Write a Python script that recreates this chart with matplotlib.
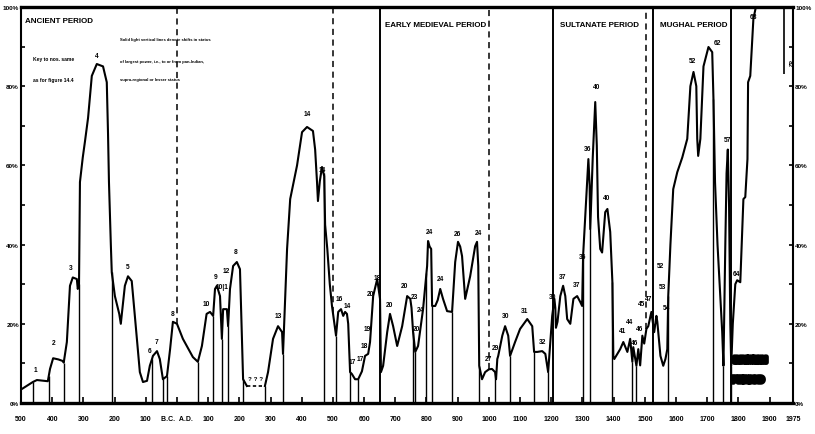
import numpy as np
import matplotlib
matplotlib.use("Agg")
import matplotlib.pyplot as plt
import matplotlib.patheffects as pe

plt.rcParams['font.family'] = ['Liberation Sans Narrow', 'Liberation Sans', 'DejaVu Sans']

# extent of largest power: (year, percent of subcontinent)
years = [-500, -462, -449, -414, -407, -397, -380, -366, -363, -353, -343, -334, -321, -318, -314,
         -311, -302, -295, -285, -273, -257, -237, -225, -221, -218, -212, -209, -199, -185, -180,
         -176, -167, -157, -145, -135, -119, -109, -96, -87, -80, -77, -64, -55, -45, -32, -22, -13,
         0, 19, 51, 67, 80, 95, 106, 116, 122, 128, 138, 144, 148, 160, 164, 170, 180, 192, 202,
         207, 212, 224]
pct = [3.4, 5.3, 5.8, 5.5, 8.6, 11.3, 11.0, 10.6, 10.2, 15.4, 29.6, 31.7, 31.3, 28.8, 30,
       55.8, 62, 66, 72, 82.6, 85.6, 85, 81, 68, 55.8, 40, 33, 27, 22.5, 20,
       23, 29.6, 32, 30.8, 22, 7.8, 5.3, 5.6, 9.4, 11.1, 11.9, 13.1, 11.1, 6, 6.8, 13.6, 20.5,
       20, 16.2, 11.6, 10.4, 14.4, 22.5, 23, 22, 28.8, 29.6, 27, 16.2, 23.7, 23.7, 19.4, 28.8, 34.6, 35.6, 33.8,
       20, 6, 4.3]

years2 = [282, 292, 308, 324, 337, 340, 347, 353, 363, 385, 401, 417, 436, 443, 449, 452, 458, 465, 472,
          475, 482, 490, 497, 510, 517, 526, 533, 539, 545, 549, 555, 561, 571, 581, 593, 603, 613, 619,
          626, 629, 642, 648, 651, 654, 661, 674, 683, 693, 706, 722, 738, 748, 752, 757, 764, 773, 789,
          802, 805, 810, 815, 818, 828, 836, 844, 853, 866, 882, 892, 901, 908, 914, 924, 940, 956, 962,
          966, 969, 978, 988, 1000, 1010, 1020, 1023, 1027, 1030, 1043, 1052, 1062, 1068, 1084, 1100, 1123,
          1139, 1145, 1155, 1171, 1181, 1190, 1203, 1210, 1213, 1215, 1220, 1229, 1238, 1245, 1251, 1261,
          1271, 1283, 1293, 1299, 1302, 1315, 1319, 1323, 1325, 1333, 1341, 1346, 1350, 1357, 1363, 1373,
          1380, 1389, 1396, 1399, 1402, 1421, 1431, 1444, 1453, 1460, 1463, 1473, 1479, 1485, 1492, 1498,
          1505, 1511, 1521, 1530, 1537, 1540, 1550, 1559, 1566, 1572, 1575, 1582, 1591, 1604, 1620, 1636,
          1646, 1656, 1665, 1668, 1671, 1678, 1688, 1704, 1716, 1720, 1725, 1733, 1741, 1748, 1752, 1758,
          1762, 1766, 1770, 1774, 1777, 1782, 1790, 1796, 1806, 1816, 1822, 1829, 1831, 1838, 1848, 1856,
          1947]
pct2 = [4.3, 7.8, 16.2, 19.4, 17.9, 12.4, 27, 38.9, 51.5, 60, 68.4, 69.7, 68.7, 64, 55.8, 51, 56, 59.6, 57.3,
        45, 38.9, 30, 24.5, 17, 23, 23.7, 22, 23, 22.5, 20, 7.8, 7.3, 6, 6, 8, 11.9, 12.4, 15.4,
        23.7, 27, 31.3, 28, 26.3, 7.8, 9.4, 17.9, 22.5, 19.4, 14.4, 19.4, 27, 26.3, 24, 17.9, 12.9, 14.4, 23.7,
        34.6, 40.9, 39.5, 38.9, 24.5, 24.5, 26, 28.8, 26.3, 23.2, 23, 35.6, 40.7, 39.5, 37.1, 26.3, 32, 39.6, 40.7,
        34.6, 9.4, 6, 7.8, 8.5, 8.6, 7.8, 6, 11.1, 11.9, 17, 19.4, 17, 11.9, 15.4, 18.7, 21.2,
        19.4, 12.9, 12.9, 13.1, 12.4, 7.8, 22, 26.3, 24, 19, 20.5, 27, 29.6, 27, 21.2, 20,
        26.3, 27, 25.5, 24.5, 37.1, 55.8, 61.6, 55, 43.9, 62, 76, 65, 47, 38.9, 38, 48.2,
        49, 43.2, 30.5, 11.9, 11.1, 13.6, 15.4, 12.9, 16.2, 10.4, 14.1, 9.4, 13.6, 9.5, 17, 15,
        18.7, 19.4, 23, 17.9, 22, 20.5, 11.9, 9.4, 11.1, 13.6, 27, 40, 54, 58.3, 62, 66.7,
        80, 83.6, 80, 66.7, 62.4, 66.7, 85, 89.9, 88.6, 76.8, 55.8, 40, 28, 18, 9.4, 40,
        58, 64, 50, 20, 9.4, 20, 30, 31, 30.5, 51.5, 52, 61.6, 81, 82.6, 97, 100,
        100]

# uncertain stretch (dotted)
gap_years = [224, 282]
gap_pct = [4.3, 4.3]

# shifts in status of largest power
shift_years = [-460, -411, -363, -314, -209, -80, -45, -32, 67, 116, 144, 164, 212, 282, 340, 470,
               510, 555, 581, 757, 764, 800, 818, 882, 969, 1020, 1068, 1145, 1190, 1302, 1325,
               1396, 1460, 1473, 1575, 1720, 1752, 1777]
period_lines = [650, 1206, 1526, 1776]
dashed_lines = [0, 500, 1000, 1505]

# dynasty key numbers
num_text = ["1", "2", "3", "4", "5", "6", "7", "8", "10", "9", "10|1", "12", "8", "13", "14", "14",
            "16", "14", "17", "17", "18", "19", "20", "18", "20", "20", "23", "20", "24", "24", "24",
            "26", "24", "27", "29", "30", "31", "32", "30", "37", "37", "36", "36", "40", "40", "41",
            "44", "46", "46", "45", "47", "52", "53", "54", "52", "62", "57", "64", "68"]
num_year = [-455, -397, -339, -257, -157, -87, -64, -13, 95, 125, 144, 157, 189, 324, 417, 465,
            520, 545, 563, 589, 600, 610, 619, 642, 680, 731, 760, 767, 780, 808, 844,
            901, 966, 998, 1020, 1055, 1116, 1171, 1203, 1238, 1280, 1299, 1315, 1344, 1376, 1428,
            1450, 1466, 1482, 1489, 1511, 1550, 1556, 1569, 1652, 1732, 1765, 1794, 1848]
num_pct = [8.4, 15.2, 34.2, 87.8, 34.5, 13.2, 15.6, 22.6, 25, 32, 29.5, 33.4, 38.2, 22, 73, 59,
           26.3, 24.7, 10.6, 11.2, 14.6, 18.7, 27.6, 31.6, 24.8, 29.6, 27, 18.7, 23.7, 43.4, 31.4,
           42.8, 43, 11.2, 14, 22, 23.3, 15.6, 27, 32, 30, 37, 64.3, 80, 52, 18.2,
           20.6, 15.4, 18.8, 25, 26.3, 34.6, 29.5, 24.2, 86.4, 91, 66.5, 32.6, 97.7]

ytick_vals = [0, 20, 40, 60, 80, 100]
ytick_text = ["0%", "20%", "40%", "60%", "80%", "100%"]
xtick_vals = list(range(-500, 2000, 100)) + [1975]
xtick_text = ["500", "400", "300", "200", "100", "B.C.  A.D.", "100", "200", "300", "400", "500",
              "600", "700", "800", "900", "1000", "1100", "1200", "1300", "1400", "1500", "1600",
              "1700", "1800", "1900", "1975"]

fig = plt.figure(figsize=(8.15, 4.35), dpi=100)
ax = fig.add_axes([21 / 815, 1 - 404 / 435, 772 / 815, 396 / 435])
ax.set_xlim(-500, 1975)
ax.set_ylim(0, 100)

all_years = np.array(years + years2)
all_pct = np.array(pct + pct2)

ax.plot(years, pct, color="black", lw=1.5, solid_joinstyle="round")
ax.plot(years2, pct2, color="black", lw=1.5, solid_joinstyle="round")
ax.plot(gap_years, gap_pct, color="black", lw=1.2, ls=(0, (2, 1.5)))
ax.text(253, 6.2, "? ? ?", fontsize=4.5, fontweight="bold", ha="center", va="center")

# 1947 partition
ax.vlines(1947, 83, 100, color="black", lw=1.2)
ax.text(1964, 86, "82", fontsize=4.5, fontweight="bold", rotation=-90, ha="center", va="center")

for yr in shift_years:
    ax.vlines(yr, 0, np.interp(yr, all_years, all_pct), color="black", lw=1.0)
for yr in period_lines:
    ax.vlines(yr, 0, 100, color="black", lw=1.4)
for yr in dashed_lines:
    ax.vlines(yr, np.interp(yr, all_years, all_pct), 100, color="black", lw=1.1, ls=(0, (4, 3)))

for t, x, y in zip(num_text, num_year, num_pct):
    ax.text(x, y, t, fontsize=4.8, fontweight="bold", ha="center", va="center")

# period titles and key
bold = dict(fontweight="bold", va="center", ha="left")
ax.text(-488, 96.5, "ANCIENT PERIOD", fontsize=5.8, **bold)
ax.text(667, 95.7, "EARLY MEDIEVAL PERIOD", fontsize=5.8, **bold)
ax.text(1229, 95.7, "SULTANATE PERIOD", fontsize=5.8, **bold)
ax.text(1550, 95.7, "MUGHAL PERIOD", fontsize=5.8, **bold)
ax.text(-462, 86.9, "Key to nos. same", fontsize=3.6, **bold)
ax.text(-462, 81.8, "as for figure 14.4", fontsize=3.6, **bold)
ax.text(-183, 92, "Solid light vertical lines denote shifts in status", fontsize=3.0, **bold)
ax.text(-183, 86.4, "of largest power, i.e., to or from pan-Indian,", fontsize=3.0, **bold)
ax.text(-183, 81.8, "supra-regional or lesser status", fontsize=3.0, **bold)

# illegible blotted label near the bottom right
blot = [pe.withStroke(linewidth=3.5, foreground="black")]
ax.text(1838, 10.6, "BRITISH", fontsize=6, fontweight="bold", ha="center", va="center", path_effects=blot)
ax.text(1830, 5.6, "PERIOD", fontsize=6, fontweight="bold", ha="center", va="center", path_effects=blot)

ax.set_yticks(ytick_vals)
ax.set_yticklabels(ytick_text)
ax.set_yticks(range(10, 100, 20), minor=True)
ax.set_xticks(xtick_vals)
ax.set_xticklabels(xtick_text)
ax.tick_params(axis="y", which="both", direction="in", length=3, width=1.2, labelsize=4.6,
               left=True, right=True, labelleft=True, labelright=True, pad=1.5)
ax.tick_params(axis="x", direction="in", length=4, width=1.2, labelsize=5, pad=9)
for lab in ax.get_xticklabels() + ax.get_yticklabels():
    lab.set_fontweight("bold")

for side in ["bottom", "top"]:
    ax.spines[side].set_linewidth(2.4)
for side in ["left", "right"]:
    ax.spines[side].set_linewidth(1.5)

fig.savefig("out.png", dpi=100)
